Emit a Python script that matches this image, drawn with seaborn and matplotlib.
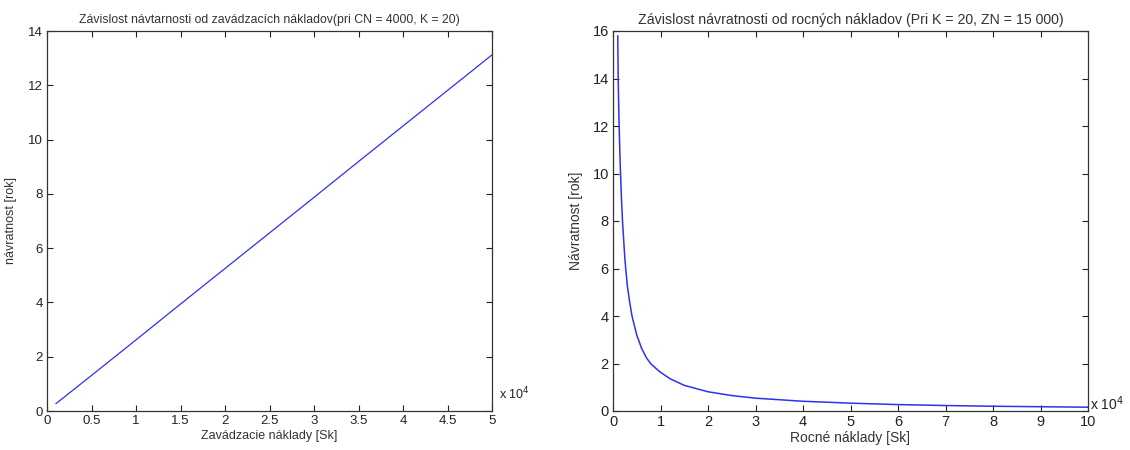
import numpy as np
import pandas as pd
import matplotlib
matplotlib.use("Agg")
import matplotlib.pyplot as plt
import seaborn as sns
from matplotlib.ticker import FuncFormatter

# Left chart data: investment costs vs payback
invest_costs = [1000, 5000, 10000, 15000, 20000, 25000, 30000, 35000, 40000, 45000, 50000]
invest_payback = [0.27, 1.31, 2.62, 3.94, 5.25, 6.56, 7.87, 9.19, 10.5, 11.81, 13.12]

# Right chart data: annual costs vs payback
annual_costs = [1000, 1100, 1250, 1500, 1750, 2000, 2500, 3000, 3500, 4000, 5000, 6000,
                7000, 8000, 9000, 10000, 12000, 15000, 20000, 25000, 30000, 40000,
                50000, 60000, 70000, 80000, 90000, 100000]
annual_payback = [15.8, 13.9, 12.3, 10.5, 9.1, 8.0, 6.4, 5.3, 4.6, 4.0, 3.2, 2.65,
                  2.25, 1.98, 1.8, 1.63, 1.36, 1.08, 0.81, 0.65, 0.54, 0.41,
                  0.33, 0.27, 0.23, 0.20, 0.18, 0.16]

left_title = "Závislost návtarnosti od zavádzacích nákladov(pri CN = 4000, K = 20)"
right_title = "Závislost návratnosti od rocných nákladov (Pri K = 20, ZN = 15 000)"

sns.set_style("ticks")
plt.rcParams['font.family'] = ['Liberation Sans', 'DejaVu Sans']

fig = plt.figure(figsize=(11.3, 4.5), dpi=100)
ax1 = fig.add_axes([47/1130, 39/450, 445/1130, 380/450])
ax2 = fig.add_axes([613/1130, 39/450, 475/1130, 380/450])

line_color = "#3030f0"
df1 = pd.DataFrame({"x": invest_costs, "y": invest_payback})
df2 = pd.DataFrame({"x": annual_costs, "y": annual_payback})
sns.lineplot(data=df1, x="x", y="y", ax=ax1, color=line_color, linewidth=0.9)
sns.lineplot(data=df2, x="x", y="y", ax=ax2, color=line_color, linewidth=1.1)

fmt = FuncFormatter(lambda v, p: ("%g" % (v / 1e4)))
txt_color = "#333333"
for ax, xmax, xstep, ymax, lsize in [(ax1, 50000, 5000, 14, 9.5), (ax2, 100000, 10000, 16, 10.5)]:
    ax.set_xlim(0, xmax)
    ax.set_ylim(0, ymax)
    ax.set_xticks(np.arange(0, xmax + 1, xstep))
    ax.set_yticks(np.arange(0, ymax + 1, 2))
    ax.xaxis.set_major_formatter(fmt)
    ax.tick_params(direction="in", length=4, width=0.8, top=True, right=True,
                   labelsize=lsize, colors="#222222", pad=3)
    for s in ax.spines.values():
        s.set_visible(True)
        s.set_linewidth(0.9)
        s.set_color("#333333")

ax1.set_title(left_title, fontsize=8.8, color=txt_color, pad=6)
ax2.set_title(right_title, fontsize=10.2, color=txt_color, pad=5)
ax1.set_xlabel("Zavádzacie náklady [Sk]", fontsize=9, color=txt_color, labelpad=2)
ax1.set_ylabel("návratnost [rok]", fontsize=9, color=txt_color, labelpad=8)
ax2.set_xlabel("Rocné náklady [Sk]", fontsize=10, color=txt_color, labelpad=1)
ax2.set_ylabel("Návratnost [rok]", fontsize=10, color=txt_color, labelpad=7)

ax1.text(1.015, 0.045, "x 10$^4$", transform=ax1.transAxes, fontsize=9,
         color="#222222", ha="left", va="center")
ax2.text(1.005, 0.02, "x 10$^4$", transform=ax2.transAxes, fontsize=10,
         color="#222222", ha="left", va="center")

fig.savefig("out.png", dpi=100, facecolor="white")
